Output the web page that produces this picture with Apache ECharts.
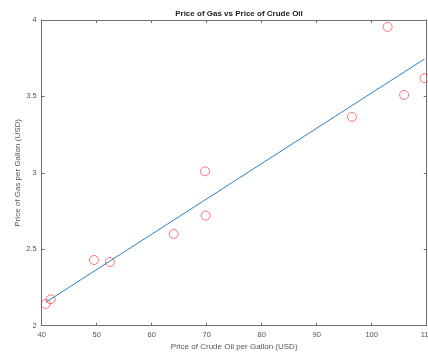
<!DOCTYPE html>
<html><head><meta charset="utf-8">
<script src="https://cdn.jsdelivr.net/npm/echarts@6/dist/echarts.min.js"></script>
<style>html,body{margin:0;padding:0;background:#fff}#c{width:428px;height:354px}</style>
</head><body><div id="c"></div>
<script>
const oilPrice = [40.73, 41.64, 49.5, 52.4, 64.0, 69.7, 69.8, 96.4, 102.9, 105.9, 109.6];
const gasPrice = [2.142, 2.173, 2.43, 2.417, 2.60, 3.01, 2.72, 3.366, 3.955, 3.51, 3.62];
const fitX = [40.73, 109.6];
const fitY = [2.153, 3.745];
const xTicks = [40, 50, 60, 70, 80, 90, 100, 110];
const yTicks = [2, 2.5, 3, 3.5, 4];

const font = 'Liberation Sans, Arial, sans-serif';
const axisColor = '#6e6e6e';
const chart = echarts.init(document.getElementById('c'), null, {renderer: 'canvas'});
const baseAxis = {
  axisLine: {show: true, onZero: false, lineStyle: {color: axisColor, width: 1}},
  axisTick: {show: true, inside: true, length: 3, lineStyle: {color: axisColor}},
  splitLine: {show: false}
};
chart.setOption({
  animation: false,
  title: {
    text: 'Price of Gas vs Price of Crude Oil',
    left: 234, top: 5, textAlign: 'center',
    textStyle: {fontFamily: font, fontSize: 8, fontWeight: 'bold', color: '#222'}
  },
  grid: {left: 41.7, right: 1.3, top: 20, bottom: 28.3, containLabel: false, outerBoundsMode: 'none'},
  xAxis: [
    Object.assign({}, baseAxis, {
      type: 'value', min: xTicks[0], max: xTicks[xTicks.length - 1], interval: 10,
      name: 'Price of Crude Oil per Gallon (USD)', nameLocation: 'middle', nameGap: 17,
      nameMoveOverlap: false,
      nameTextStyle: {fontFamily: font, fontSize: 8, color: '#555'},
      axisLabel: {fontFamily: font, fontSize: 7.5, color: '#555', margin: 5}
    }),
    Object.assign({}, baseAxis, {
      type: 'value', position: 'top', min: xTicks[0], max: xTicks[xTicks.length - 1], interval: 10,
      axisLabel: {show: false}
    })
  ],
  yAxis: [
    Object.assign({}, baseAxis, {
      type: 'value', min: yTicks[0], max: yTicks[yTicks.length - 1], interval: 0.5,
      name: 'Price of Gas per Gallon (USD)', nameLocation: 'middle', nameGap: 20, nameRotate: 90,
      nameMoveOverlap: false,
      nameTextStyle: {fontFamily: font, fontSize: 8, color: '#555'},
      axisLabel: {fontFamily: font, fontSize: 7.5, color: '#555', margin: 5}
    }),
    Object.assign({}, baseAxis, {
      type: 'value', position: 'right', min: yTicks[0], max: yTicks[yTicks.length - 1], interval: 0.5,
      axisLabel: {show: false}
    })
  ],
  series: [
    {
      type: 'line', data: fitX.map((x, i) => [x, fitY[i]]),
      showSymbol: false, symbol: 'none',
      lineStyle: {color: '#2f7fc1', width: 1}
    },
    {
      type: 'scatter', data: oilPrice.map((x, i) => [x, gasPrice[i]]),
      symbol: 'circle', symbolSize: 9,
      itemStyle: {color: 'rgba(0,0,0,0)', borderColor: '#ff2a2a', borderWidth: 0.8}
    }
  ]
});
</script></body></html>
